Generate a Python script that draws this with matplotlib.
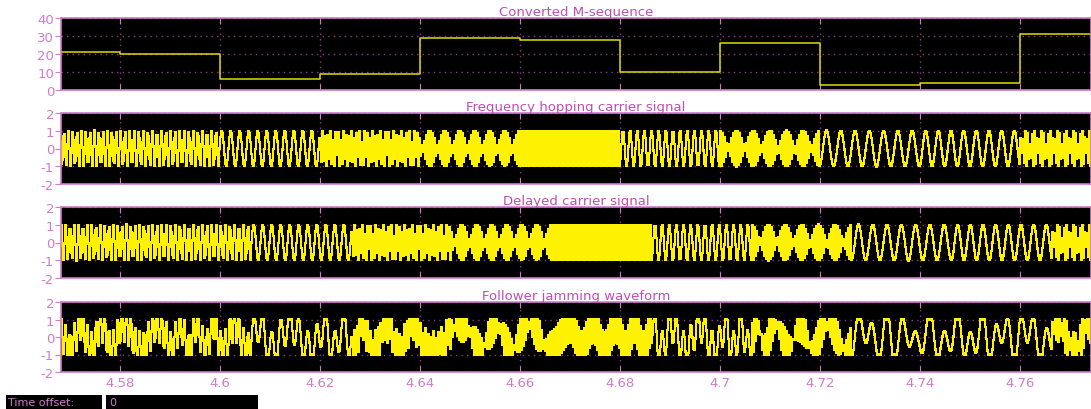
import numpy as np
import matplotlib
matplotlib.use("Agg")
import matplotlib.pyplot as plt
from matplotlib.patches import Rectangle

plt.rcParams["axes.unicode_minus"] = False

# --- data ---
hop_edges = [4.50, 4.58, 4.60, 4.62, 4.64, 4.66, 4.68, 4.70, 4.72, 4.74, 4.76, 4.80]
m_sequence = [21, 20, 6, 9, 29, 28, 10, 26, 3, 4, 31]
# apparent carrier frequency of each hop (Hz, as sampled)
hop_freq = [1150, 1100, 555, 1900, 2333, 2500, 700, 2350, 350, 395, 2188]
# follower jammer tone, one value per 10 ms
jam_edges = [4.50, 4.57, 4.58, 4.59, 4.60, 4.61, 4.62, 4.63, 4.64, 4.65, 4.66,
             4.67, 4.68, 4.69, 4.70, 4.71, 4.72, 4.73, 4.74, 4.75, 4.76, 4.80]
jam_freq = [180, 240, 150, 300, 210, 130, 260, 190, 90, 160, 120,
            220, 280, 170, 310, 200, 140, 250, 180, 230, 160]
jam_level = 0.7

fs = 5000.0          # sample rate of the scope traces
delay = 0.0064       # delay of the follower
x_ticks = [4.58, 4.60, 4.62, 4.64, 4.66, 4.68, 4.70, 4.72, 4.74, 4.76]
x_lim = (4.5682, 4.7742)

titles = ["Converted M-sequence", "Frequency hopping carrier signal",
          "Delayed carrier signal", "Follower jamming waveform"]

PINK = "#d07cc8"
TITLE = "#c04cb8"
GRID = "#8c3c8c"
YEL = "#fff200"


def piecewise(t, edges, vals):
    idx = np.searchsorted(edges, t, side="right") - 1
    idx = np.clip(idx, 0, len(vals) - 1)
    return np.asarray(vals, dtype=float)[idx]


t = np.arange(4.50, 4.80, 1 / fs)
f_now = piecewise(t, hop_edges, hop_freq)
carrier = np.sin(np.cumsum(2 * np.pi * f_now / fs))
n_del = int(round(delay * fs))
delayed = np.concatenate([np.zeros(n_del), carrier[:-n_del]])
fj = piecewise(t, jam_edges, jam_freq)
jam_tone = np.sin(np.cumsum(2 * np.pi * fj / fs) + 0.7)
jamming = np.clip(delayed + jam_level * jam_tone, -1, 1)

tm = np.array(hop_edges[:-1] + [x_lim[1]])
mvals = np.array(m_sequence + [m_sequence[-1]], dtype=float)

fig = plt.figure(figsize=(10.91, 4.10), dpi=100)
fig.patch.set_facecolor("white")

H = 410.0
panels = [(19, 91), (114, 185), (208, 279), (303, 373)]
axes = []
for top, bot in panels:
    ax = fig.add_axes([61 / 1091, 1 - bot / H, 1 - 61 / 1091, (bot - top) / H])
    axes.append(ax)

for i, ax in enumerate(axes):
    ax.set_facecolor("black")
    if i == 0:
        ax.step(tm, mvals, where="post", color="#e0dc00", lw=1.1)
        ax.set_ylim(0, 40)
        ax.set_yticks([0, 10, 20, 30, 40])
    else:
        sig = [carrier, delayed, jamming][i - 1]
        ax.plot(t, sig, drawstyle="steps-post", color=YEL, lw=1.1,
                antialiased=False)
        ax.set_ylim(-2, 2)
        ax.set_yticks([-2, -1, 0, 1, 2])
    ax.set_xlim(*x_lim)
    ax.set_xticks(x_ticks)
    if i == 3:
        ax.set_xticklabels(["%g" % v for v in x_ticks])
    else:
        ax.set_xticklabels([])
    ax.grid(True, color=GRID, linestyle=(0, (1, 3)), lw=1.0)
    for s in ax.spines.values():
        s.set_color(PINK)
        s.set_linewidth(1.2)
    ax.tick_params(axis="y", direction="out", length=4, color=PINK,
                   labelcolor=PINK, labelsize=9.5, pad=1)
    ax.tick_params(axis="x", direction="in", length=4, color=PINK,
                   labelcolor=PINK, labelsize=9.5, top=True, pad=3)
    ax.set_title(titles[i], color=TITLE, fontsize=9.5, pad=2)

# time offset strip at the bottom
fig.add_artist(Rectangle((6 / 1091, 0), 96 / 1091, 14 / H,
                         transform=fig.transFigure, facecolor="black"))
fig.add_artist(Rectangle((106 / 1091, 0), 152 / 1091, 14 / H,
                         transform=fig.transFigure, facecolor="black"))
fig.text(8 / 1091, 7 / H, "Time offset:", color=PINK, fontsize=8, va="center")
fig.text(109 / 1091, 7 / H, "0", color=PINK, fontsize=8, va="center")

fig.savefig("out.png", dpi=100, facecolor="white")
